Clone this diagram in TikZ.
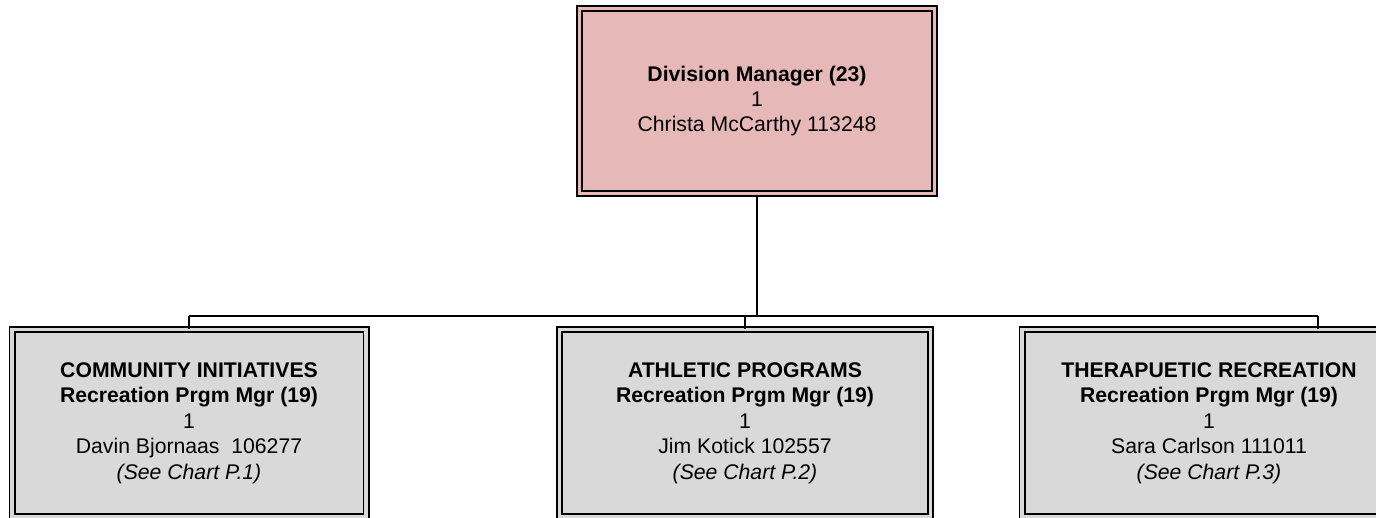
\documentclass[tikz,border=0pt]{standalone}
\usepackage{fontspec}
\setmainfont{Liberation Sans}
\definecolor{pinkfill}{HTML}{E6B8B7}
\definecolor{grayfill}{HTML}{D9D9D9}
\begin{document}
\begin{tikzpicture}[x=0.5pt,y=-0.5pt,
  topbox/.style={draw=black, line width=1.15pt, double=pinkfill, double distance=1.4pt,
    fill=pinkfill, minimum width=177.5pt, minimum height=92.5pt, inner sep=0pt,
    align=center, font=\fontsize{10.6}{12.5}\selectfont},
  subbox/.style={draw=black, line width=0.9pt, double=grayfill, double distance=1.7pt,
    fill=grayfill, minimum height=93.5pt, inner sep=0pt,
    align=center, font=\fontsize{10.6}{12.75}\selectfont},
  thickline/.style={line width=1.2pt},
  thinline/.style={line width=0.75pt}]
\useasboundingbox (0,0) rectangle (1376,518);
\clip (0,0) rectangle (1376,518);
\node[topbox] (dm) at (757,101) {\textbf{Division Manager (23)}\\1\\Christa McCarthy 113248};
\node[subbox, minimum width=177pt] (ci) at (189,423) {\textbf{COMMUNITY INITIATIVES}\\\textbf{Recreation Prgm Mgr (19)}\\1\\Davin Bjornaas~~106277\\\textit{(See Chart P.1)}};
\node[subbox, minimum width=185.5pt] (ap) at (745,423) {\textbf{ATHLETIC PROGRAMS}\\\textbf{Recreation Prgm Mgr (19)}\\1\\Jim Kotick 102557\\\textit{(See Chart P.2)}};
\node[subbox, minimum width=187pt] (tr) at (1209,423) {\textbf{THERAPUETIC RECREATION}\\\textbf{Recreation Prgm Mgr (19)}\\1\\Sara Carlson 111011\\\textit{(See Chart P.3)}};
\coordinate (bus) at (757,316);
\coordinate (busL) at (189,316);
\coordinate (busM) at (745,316);
\coordinate (busR) at (1318,316);
\draw[thickline] (dm.south) -- (bus);
\draw[thinline] (busL) -- (busR);
\draw[thinline] (busL) -- (ci.north -| busL);
\draw[thinline] (busM) -- (ap.north -| busM);
\draw[thinline] (busR) -- (tr.north -| busR);
\end{tikzpicture}
\end{document}
